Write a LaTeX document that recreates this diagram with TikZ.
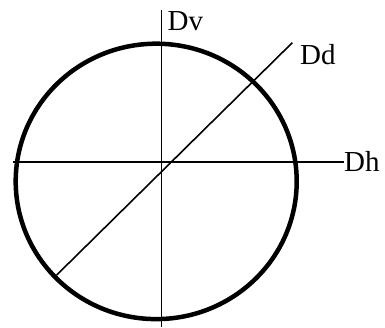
\documentclass[tikz,border=0pt]{standalone}
\usepackage{fontspec}
\setmainfont{Liberation Serif}
\begin{document}
\begin{tikzpicture}[x=1pt,y=-1pt,
  axis/.style={line width=1.6pt,black},
  rim/.style={line width=4.5pt,black},
  lbl/.style={anchor=base west,inner sep=0pt,font=\fontsize{29}{29}\selectfont}]
\useasboundingbox (0,0) rectangle (385,327);
\coordinate (c) at (156.2,181.4);
\draw[rim] (c) ellipse [x radius=140.5, y radius=137.7];
\coordinate (vtop) at (161.5,10);
\coordinate (vbot) at (161.5,327);
\coordinate (hl) at (13,162);
\coordinate (hr) at (344,162);
\coordinate (dl) at (56.7,275);
\coordinate (dr) at (292.3,42.7);
\draw[axis] (vtop) -- (vbot);
\draw[axis] (hl) -- (hr);
\draw[axis] (dl) -- (dr);
\node[lbl] (Dv) at (167.5,30) {Dv};
\node[lbl] (Dd) at (300,64) {Dd};
\node[lbl] (Dh) at (344,171) {Dh};
\end{tikzpicture}
\end{document}
